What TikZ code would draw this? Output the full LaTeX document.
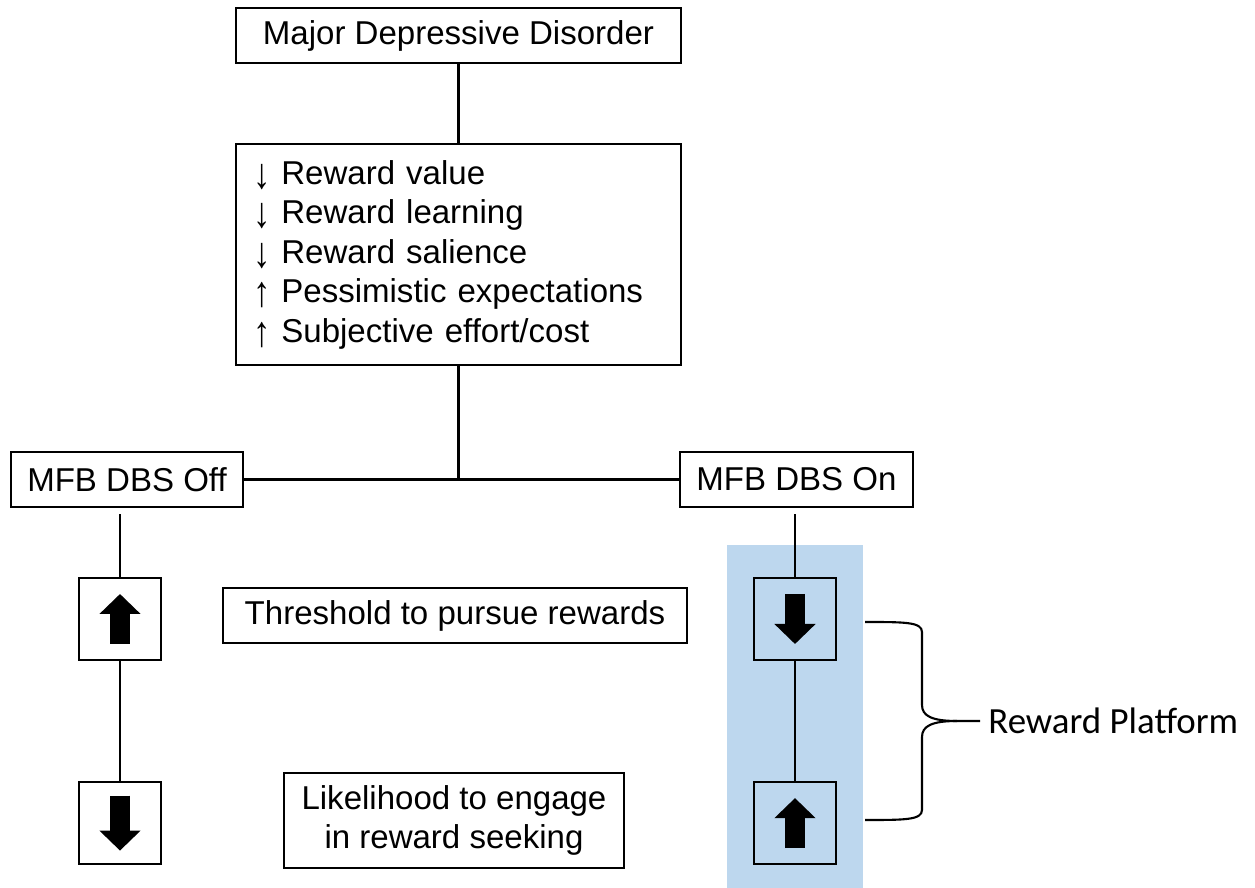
\documentclass[tikz,border=0pt]{standalone}
\usepackage{fontspec}
\setmainfont{Liberation Sans}
\newfontfamily\platformfont{Carlito}
\usetikzlibrary{positioning, arrows.meta}
\definecolor{platformblue}{RGB}{189, 215, 238}
\newcommand{\lessarrow}{\raisebox{-0.12em}{\scalebox{1.05}[1.3]{↓}}}
\newcommand{\morearrow}{\raisebox{-0.12em}{\scalebox{1.05}[1.3]{↑}}}

\begin{document}
\begin{tikzpicture}[
    box/.style={
        draw,
        line width=1.2pt,
        font=\fontsize{18.8}{22.5}\selectfont,
        minimum height=1.1cm,
        inner sep=0pt
    },
    signbox/.style={
        draw,
        line width=1.2pt,
        minimum width=1.64cm,
        minimum height=1.64cm,
        inner sep=0pt
    },
    link/.style={line width=1.2pt},
    fatarrow/.style={
        line width=0.4cm,
        -{Triangle[length=0.4cm, width=0.8cm]}
    }
]
\useasboundingbox (0,0) rectangle (25.1,-17.76);

% === Reward platform band ===
\fill[platformblue] (14.54,-10.9) rectangle (17.26,-17.76);

% === MDD and its effects ===
\node[box, minimum width=8.9cm] (mdd) at (9.17,-0.71) {Major Depressive Disorder};
\node[box, below=1.58cm of mdd, minimum width=8.9cm, minimum height=4.42cm,
      text width=8.22cm, inner xsep=0.34cm, align=left] (effects) {
\lessarrow\ Reward value\\
\lessarrow\ Reward learning\\
\lessarrow\ Reward salience\\
\morearrow\ Pessimistic expectations\\
\morearrow\ Subjective effort/cost
};

% === DBS branches ===
\node[box, minimum width=4.64cm] (off) at (2.54,-9.59) {MFB DBS Off};
\node[box, minimum width=4.66cm] (on) at (15.93,-9.59) {MFB DBS On};
\coordinate (split) at (effects.south |- off.east);

\node[signbox] (offup) at (2.4,-12.38) {};
\node[signbox, below=2.4cm of offup] (offdown) {};
\node[signbox] (ondown) at (15.9,-12.38) {};
\node[signbox, below=2.4cm of ondown] (onup) {};

\node[box, minimum width=9.28cm] (thresh) at (9.1,-12.31) {Threshold to pursue rewards};
\node[box, minimum width=6.8cm, minimum height=1.9cm, align=center] (likely) at (9.08,-16.41) {Likelihood to engage\\in reward seeking};

% === Block arrows ===
\draw[fatarrow] ([yshift=-0.5cm]offup.center) -- ([yshift=0.5cm]offup.center);
\draw[fatarrow] ([yshift=0.55cm]offdown.center) -- ([yshift=-0.55cm]offdown.center);
\draw[fatarrow] ([yshift=0.5cm]ondown.center) -- ([yshift=-0.5cm]ondown.center);
\draw[fatarrow] ([yshift=-0.5cm]onup.center) -- ([yshift=0.5cm]onup.center);

% === Connectors ===
\draw[link] (mdd) -- (effects);
\draw[link] (effects) -- (split);
\draw[link] (off) -- (on);
\draw[link, shorten <=0.12cm] (off.south -| offup.north) -- (offup.north);
\draw[link] (offup) -- (offdown);
\draw[link, shorten <=0.12cm] (on.south -| ondown.north) -- (ondown.north);
\draw[link] (ondown) -- (onup);

% === Brace ===
\coordinate (brtop) at (17.3,-12.44);
\coordinate (brbot) at (17.3,-16.4);
\node[font=\platformfont\fontsize{21}{25}\selectfont, anchor=west, inner xsep=0.16cm] (platform) at (19.6,-14.42) {Reward Platform};
\draw[link] (brtop) .. controls +(0.8,0) and +(0,0.2) .. (18.44,-12.64) -- (18.44,-14.1)
    .. controls +(0,-0.22) and +(-0.5,0) .. (19.14,-14.42) -- (platform.west);
\draw[link] (brbot) .. controls +(0.8,0) and +(0,-0.2) .. (18.44,-16.2) -- (18.44,-14.74)
    .. controls +(0,0.22) and +(-0.5,0) .. (19.14,-14.42);

\end{tikzpicture}
\end{document}
